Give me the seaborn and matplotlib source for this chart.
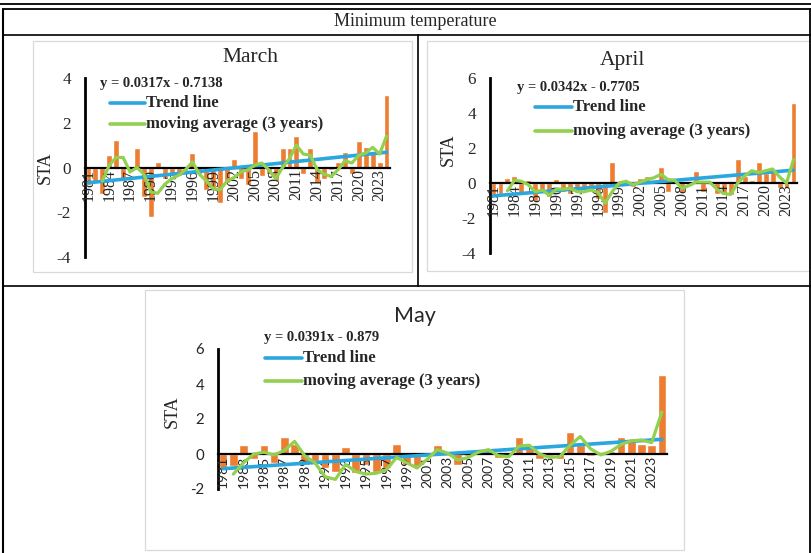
import numpy as np
import pandas as pd
import matplotlib
matplotlib.use("Agg")
import matplotlib.pyplot as plt
from matplotlib.lines import Line2D
from matplotlib.patches import Rectangle
import seaborn as sns

# ---------------- data ----------------
years = list(range(1981, 2025))

march_sta = [-0.8, -0.7, -1.2, 0.55, 1.25, -0.5, -0.2, 0.85, -1.3, -2.2,
             0.25, -0.5, -0.4, -0.4, -0.3, 0.65, -0.3, -1.0, -0.9, -1.6,
             -0.7, 0.4, -0.5, -0.8, 1.65, -0.4, -0.3, -0.6, 0.85, 0.85,
             1.4, -0.3, 0.85, -0.7, -0.5, -0.1, 0.25, 0.7, -0.3, 1.2,
             0.9, 0.7, 0.25, 3.25]
april_sta = [-0.7, -0.6, 0.3, 0.4, -0.6, 0.15, -1.0, -0.4, -0.8, 0.25,
             -0.5, -0.6, -0.5, -0.4, -0.3, -0.9, -1.7, 1.2, -0.1, 0.1,
             -0.2, 0.3, 0.4, 0.2, 0.9, -0.5, 0.1, -0.5, -0.1, 0.7,
             -0.5, 0.0, -0.6, -0.7, -0.7, 1.4, 0.4, 0.2, 1.2, 0.6,
             0.7, -0.3, -0.3, 4.6]
may_sta = [-0.9, -0.7, 0.5, -0.3, 0.5, -0.5, 1.0, 0.6, -0.5, -0.4,
           -0.8, -1.0, 0.4, -1.1, -0.6, -1.0, -0.8, 0.6, -0.6, -0.7,
           -0.1, 0.5, 0.0, -0.6, -0.1, 0.0, 0.35, -0.2, 0.1, 0.95,
           0.4, -0.3, -0.1, -0.3, 1.25, 0.5, -0.1, 0.0, 0.2, 0.95,
           0.85, 0.6, 0.5, 4.5]

# 3-year moving-average curves
march_ma_years = list(range(1983, 2025))
march_ma = [-0.6, 0.1, 0.45, 0.45, -0.2, 0.0, -0.3, -1.1, -1.15, -0.75,
            -0.5, -0.35, -0.1, 0.25, -0.3, -0.6, -0.95, -1.0, -0.6, -0.45,
            -0.2, -0.1, 0.1, 0.2, -0.1, -0.5, 0.0, 0.4, 1.0, 0.6,
            0.55, -0.1, -0.3, -0.4, -0.1, 0.3, 0.2, 0.55, 0.65, 0.9,
            0.6, 1.4]
april_ma_years = list(range(1983, 2025))
april_ma = [-0.45, 0.15, 0.1, -0.1, -0.5, -0.4, -0.7, -0.35, -0.35, -0.3,
            -0.5, -0.5, -0.4, -0.55, -1.15, -0.5, 0.0, 0.1, -0.1, 0.05,
            0.2, 0.3, 0.5, 0.2, 0.15, -0.3, -0.15, 0.05, 0.05, 0.05,
            -0.35, -0.6, -0.65, 0.0, 0.4, 0.7, 0.6, 0.7, 0.8, 0.35,
            0.0, 1.35]
may_ma_years = list(range(1982, 2025))
may_ma = [-1.15, -0.5, 0.0, 0.1, -0.05, 0.2, 0.72, -0.1, -0.5, -1.3,
          -1.45, -0.6, -1.0, -1.15, -1.1, -0.9, -0.2, -0.5, -0.8, -0.3,
          0.25, 0.05, -0.35, -0.2, 0.1, 0.25, -0.1, -0.15, 0.45, 0.5,
          0.0, -0.2, -0.15, 0.5, 1.0, 0.3, -0.05, 0.15, 0.55, 0.75,
          0.8, 0.65, 2.4]

# trend-line equations as printed on the chart (x = 1 .. 44)
march_slope, march_intercept = 0.0317, -0.7138
april_slope, april_intercept = 0.0342, -0.7705
may_slope, may_intercept = 0.0391, -0.879
march_eq = "y = 0.0317x - 0.7138"
april_eq = "y = 0.0342x - 0.7705"
may_eq = "y = 0.0391x - 0.879"

march_yticks = [-4, -2, 0, 2, 4]
april_yticks = [-4, -2, 0, 2, 4, 6]
may_yticks = [-2, 0, 2, 4, 6]

header = "Minimum temperature"
legend_labels = ["Trend line", "moving average (3 years)"]

# ---------------- style ----------------
sns.set_theme(style="white")
plt.rcParams["font.family"] = ["Liberation Serif", "DejaVu Serif"]

BAR = "#ED7D31"
BLUE = "#2AA7DF"
GREEN = "#92D050"
SERIF = ["Liberation Serif", "DejaVu Serif"]
SANS = ["Lato", "DejaVu Sans"]

W, H = 812, 553
fig = plt.figure(figsize=(W / 100, H / 100), dpi=100)
fig.patch.set_facecolor("white")


def fx(x):
    return x / W


def fy(y):
    return 1 - y / H


def rect(x0, y0, x1, y1):
    return [fx(x0), fy(y1), (x1 - x0) / W, (y1 - y0) / H]


def hline(x0, x1, y, lw=1.2, color="black"):
    fig.add_artist(Line2D([fx(x0), fx(x1)], [fy(y), fy(y)], color=color,
                          lw=lw, transform=fig.transFigure))


def vline(x, y0, y1, lw=1.2, color="black"):
    fig.add_artist(Line2D([fx(x), fx(x)], [fy(y0), fy(y1)], color=color,
                          lw=lw, transform=fig.transFigure))


def box(x0, y0, x1, y1, color="#D9D9D9"):
    fig.add_artist(Rectangle((fx(x0), fy(y1)), (x1 - x0) / W, (y1 - y0) / H,
                             fill=False, ec=color, lw=0.9,
                             transform=fig.transFigure))


# frame / table lines
hline(0, W, 4, lw=1.3)
hline(3, W, 9, lw=1.3)
vline(3, 9, H, lw=1.5)
vline(810, 9, H, lw=1.3)
hline(3, W, 35, lw=1.2)
vline(418, 35, 286, lw=1.2)
hline(3, W, 286, lw=1.2)
fig.text(fx(415), fy(22), header, ha="center", va="center", fontsize=13,
         family=SERIF)

# chart-area borders
box(33, 41, 412, 272)
box(427, 41, 812, 271)
box(145, 290, 684, 550)


def panel(ax_px, sta, ma_years, ma, slope, intercept, ylim, yticks, step,
          tick_family, tick_size):
    ax = fig.add_axes(rect(*ax_px))
    df = pd.DataFrame({"year": years, "sta": sta})
    sns.barplot(data=df, x="year", y="sta", native_scale=True, color=BAR,
                saturation=1, width=0.85, ax=ax, zorder=2)
    t = np.arange(1, len(years) + 1)
    trend = slope * t + intercept
    sns.lineplot(x=years, y=trend, color=BLUE, lw=2.6, ax=ax, zorder=4)
    sns.lineplot(x=ma_years, y=ma, color=GREEN, lw=2.3, ax=ax, zorder=5)
    ax.set_axisbelow(False)
    ax.set_xlim(years[0] - 0.5, years[-1] + 0.5)
    ax.set_ylim(*ylim)
    ax.set_facecolor("none")
    for s in ("top", "right"):
        ax.spines[s].set_visible(False)
    ax.spines["left"].set_linewidth(2.0)
    ax.spines["left"].set_color("black")
    ax.spines["bottom"].set_position(("data", 0))
    ax.spines["bottom"].set_linewidth(1.6)
    ax.spines["bottom"].set_color("black")
    ax.spines["bottom"].set_zorder(3)
    ax.set_xticks(years[::step])
    ax.set_xticklabels([str(y) for y in years[::step]], rotation=90,
                       family=tick_family, fontsize=tick_size)
    ax.set_yticks(yticks)
    ax.set_yticklabels([str(v) for v in yticks], family=tick_family,
                       fontsize=tick_size + 0.8)
    ax.tick_params(axis="x", length=0, pad=1)
    ax.tick_params(axis="y", length=0, pad=10)
    ax.set_xlabel("")
    ax.set_ylabel("")
    ax.grid(False)
    if ax.get_legend():
        ax.get_legend().remove()
    return ax


def annotate(title, title_xy, title_family, sta_xy, eq, eq_xy, leg_x0,
             leg_x1, leg_y):
    fig.text(fx(title_xy[0]), fy(title_xy[1]), title, ha="center",
             va="center", fontsize=15.5, family=title_family)
    fig.text(fx(sta_xy[0]), fy(sta_xy[1]), "STA", ha="center", va="center",
             rotation=90, fontsize=13, family=SERIF)
    fig.text(fx(eq_xy[0]), fy(eq_xy[1]), eq, ha="left", va="center",
             fontsize=10.5, fontweight="bold", family=SERIF)
    for lab, col, y in zip(legend_labels, [BLUE, GREEN], leg_y):
        fig.add_artist(Line2D([fx(leg_x0), fx(leg_x1)], [fy(y), fy(y)],
                              color=col, lw=2.6,
                              transform=fig.transFigure))
        fig.text(fx(leg_x1 + 1), fy(y), lab, ha="left", va="center",
                 fontsize=12, fontweight="bold", family=SERIF)


panel((85, 78, 390, 257), march_sta, march_ma_years, march_ma, march_slope,
      march_intercept, (-4, 4), march_yticks, 3, SERIF, 11.5)
annotate("March", (250, 57), SERIF, (45, 168), march_eq,
         (100, 84), 110, 145, (103, 124))

panel((490, 78, 797, 253), april_sta, april_ma_years, april_ma, april_slope,
      april_intercept, (-4, 6), april_yticks, 3, SERIF, 11.5)
annotate("April", (622, 60), SERIF, (448, 150), april_eq,
         (517, 88), 535, 572, (107, 131))

panel((218, 349, 667, 489), may_sta, may_ma_years, may_ma, may_slope,
      may_intercept, (-2, 6), may_yticks, 2, SANS, 10)
annotate("May", (415, 316), SANS, (172, 412), may_eq,
         (264, 337), 265, 302, (358, 381))

fig.savefig("out.png", dpi=100)
